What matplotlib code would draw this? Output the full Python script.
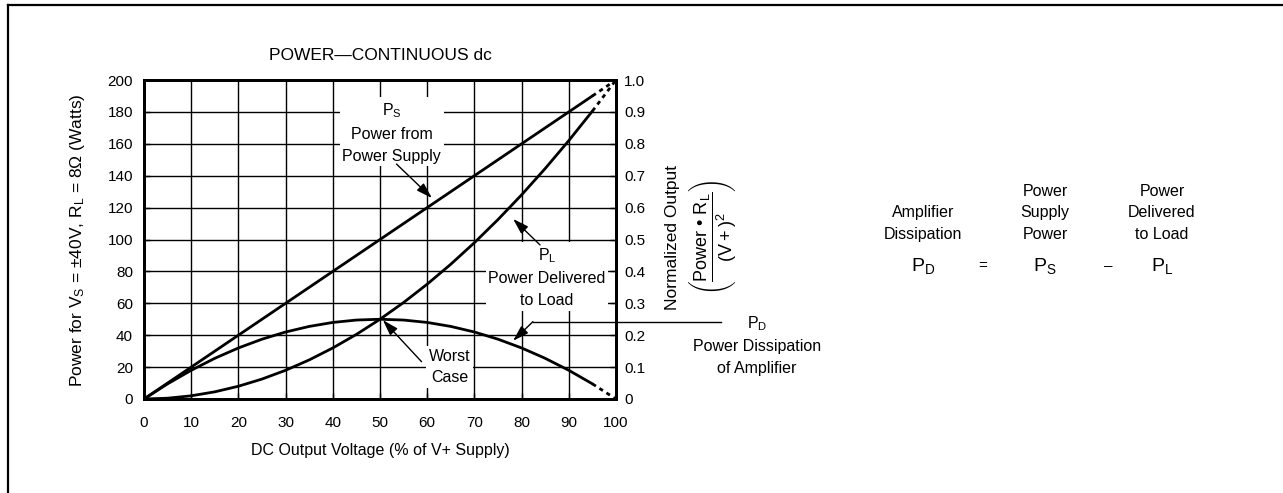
"""
Power vs DC output voltage, continuous dc (datasheet style figure).
"""
import matplotlib
matplotlib.use("Agg")
import matplotlib.pyplot as plt
from matplotlib.lines import Line2D

plt.rcParams["font.family"] = ["Liberation Sans", "DejaVu Sans"]
plt.rcParams["mathtext.fontset"] = "custom"
plt.rcParams["mathtext.rm"] = "Liberation Sans"
plt.rcParams["mathtext.it"] = "Liberation Sans"
plt.rcParams["mathtext.bf"] = "Liberation Sans:bold"

# output voltage, % of V+ supply (solid part of the curves)
volts = [0, 5, 10, 15, 20, 25, 30, 35, 40, 45, 50, 55, 60, 65, 70, 75, 80, 85, 90, 95]
ps_watts = [0, 10, 20, 30, 40, 50, 60, 70, 80, 90, 100, 110, 120, 130, 140, 150, 160, 170, 180, 190]
pl_watts = [0, 0.5, 2, 4.5, 8, 12.5, 18, 24.5, 32, 40.5, 50, 60.5, 72, 84.5, 98, 112.5, 128, 144.5, 162, 180.5]
pd_watts = [0, 9.5, 18, 25.5, 32, 37.5, 42, 45.5, 48, 49.5, 50, 49.5, 48, 45.5, 42, 37.5, 32, 25.5, 18, 9.5]

# dashed ends
volts_end = [95, 100]
ps_end = [190, 200]
pl_end = [180.5, 200]
pd_end = [9.5, 0]

x_ticks = list(range(0, 101, 10))
left_ticks = list(range(0, 201, 20))
right_ticks = [i / 10 for i in range(11)]
right_labels = ["0", "0.1", "0.2", "0.3", "0.4", "0.5", "0.6", "0.7", "0.8", "0.9", "1.0"]

W, H = 1283, 493
FS_TICK = 11
FS = 11.5      # annotations, equation words
FS_BIG = 12.5  # title, axis labels
LS = 1.55


def fx(px):
    return px / W


def fy(py):
    return 1 - py / H


fig = plt.figure(figsize=(W / 100, H / 100), dpi=100)
ax = fig.add_axes([fx(144), fy(399), fx(616) - fx(144), fy(80) - fy(399)])

ax.set_xlim(0, 100)
ax.set_ylim(0, 200)
ax.set_xticks(x_ticks)
ax.set_yticks(left_ticks)
ax.grid(True, color="black", lw=1.0)
ax.set_axisbelow(True)
for s in ax.spines.values():
    s.set_linewidth(2)
ax.tick_params(direction="in", length=4, width=1, labelsize=FS_TICK, pad=8)
ax.tick_params(axis="x", pad=12)

ax2 = ax.twinx()
ax2.set_ylim(0, 1)
ax2.set_yticks(right_ticks)
ax2.set_yticklabels(right_labels)
ax2.tick_params(direction="in", length=4, width=1, labelsize=FS_TICK, pad=6)
for s in ax2.spines.values():
    s.set_linewidth(2)

for y, y_end in [(ps_watts, ps_end), (pl_watts, pl_end), (pd_watts, pd_end)]:
    ax.plot(volts, y, color="black", lw=2, solid_capstyle="round")
    ax.plot(volts_end, y_end, color="black", lw=2, ls=(0, (1.5, 1.5)))

box = dict(facecolor="white", edgecolor="none", pad=2)
arrow = dict(arrowstyle="-|>,head_length=0.8,head_width=0.25", color="black", lw=1,
             mutation_scale=12, shrinkA=0, shrinkB=0)

ax.text(52.5, 167, "P$_\\mathregular{S}$\nPower from\nPower Supply", ha="center", va="center",
        fontsize=FS, linespacing=LS, bbox=box, zorder=3)
ax.annotate("", xy=(61.0, 126.0), xytext=(53.5, 147.3), arrowprops=arrow, zorder=4)

ax.text(85.4, 76.5, "P$_\\mathregular{L}$\nPower Delivered\nto Load", ha="center", va="center",
        fontsize=FS, linespacing=LS, bbox=box, zorder=3)
ax.annotate("", xy=(78.2, 112.9), xytext=(83.9, 96.6), arrowprops=arrow, zorder=4)

ax.text(64.8, 20.1, "Worst\nCase", ha="center", va="center",
        fontsize=FS, linespacing=LS, bbox=box, zorder=3)
ax.annotate("", xy=(50.6, 49.5), xytext=(58.8, 23.4), arrowprops=arrow, zorder=4)

ax.text(129.9, 33.9, "P$_\\mathregular{D}$\nPower Dissipation\nof Amplifier", ha="center", va="center",
        fontsize=FS, linespacing=LS, clip_on=False)
ax.plot([122.2, 82.4], [48.5, 48.5], color="black", lw=1, clip_on=False)
ax.annotate("", xy=(78.2, 36.5), xytext=(82.4, 48.5), arrowprops=arrow, zorder=4)

# titles and axis labels
fig.text(fx(380), fy(55), "POWER\u2014CONTINUOUS dc", ha="center", va="center", fontsize=FS_BIG)
fig.text(fx(380), fy(451), "DC Output Voltage (% of V+ Supply)", ha="center", va="center", fontsize=FS)
fig.text(fx(78), fy(240), "Power for V$_\\mathregular{S}$ = \u00b140V, R$_\\mathregular{L}$ = 8\u03a9 (Watts)",
         rotation=90, ha="center", va="center", fontsize=FS_BIG)
fig.text(fx(672), fy(237), "Normalized Output", rotation=90, ha="center", va="center", fontsize=FS_BIG)
fig.text(fx(712), fy(237),
         "$\\left(\\dfrac{\\mathregular{Power\\ \u2022\\ R_L}}{\\mathregular{(V+)^2}}\\right)$",
         rotation=90, ha="center", va="center", fontsize=13)

# equation on the right
for px, lines in [(923, "Amplifier\nDissipation"), (1045, "Power\nSupply\nPower"),
                  (1162, "Power\nDelivered\nto Load")]:
    fig.text(fx(px), fy(242), lines, ha="center", va="bottom", fontsize=FS, linespacing=LS)
for px, sym in [(923, "P$_\\mathregular{D}$"), (983, "="), (1045, "P$_\\mathregular{S}$"),
                (1108, "\u2013"), (1162, "P$_\\mathregular{L}$")]:
    fig.text(fx(px), fy(266), sym, ha="center", va="center", fontsize=14 if sym.startswith("P") else 11)

# frame around the figure
fig.add_artist(Line2D([fx(8), 1], [fy(5), fy(5)], color="black", lw=1.6))
fig.add_artist(Line2D([fx(8), fx(8)], [fy(5), 0], color="black", lw=1.6))

fig.savefig("out.png", dpi=100)
